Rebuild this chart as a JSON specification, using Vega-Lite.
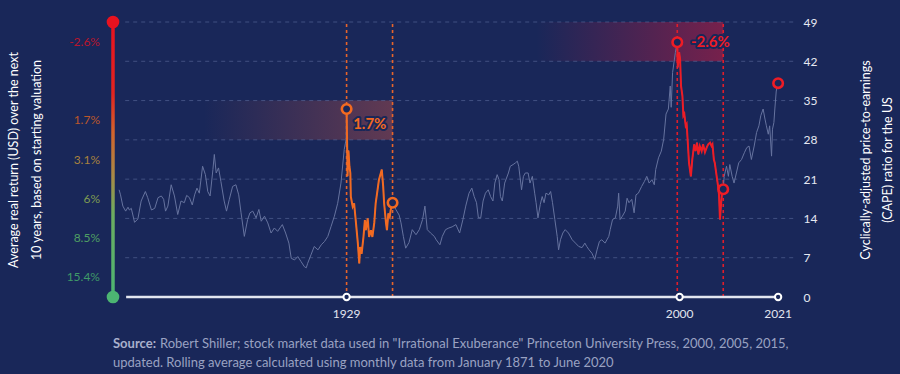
{
"$schema": "https://vega.github.io/schema/vega-lite/v6.json",
"autosize": {"type": "none"},
"width": 667,
"height": 275,
"padding": {"left": 113, "top": 22, "right": 120, "bottom": 77},
"background": "#192759",
"config": {"view": {"stroke": null}, "font": "Lato", "text": {"font": "Lato"}, "axis": {"labelFont": "Lato", "titleFont": "Lato"}, "scale": {"continuousPadding": 0}},
"resolve": {"axis": {"y": "independent"}, "scale": {"color": "independent", "stroke": "independent"}},
"datasets": {
"cape": [
{"year":1880.5,"cape":19.1,"era":"none"},{"year":1880.8,"cape":18.2,"era":"none"},{"year":1881.3,"cape":16.2,"era":"none"},{"year":1881.9,"cape":15.3,"era":"none"},{"year":1882.4,"cape":16.0,"era":"none"},{"year":1882.7,"cape":15.5,"era":"none"},{"year":1883.1,"cape":15.8,"era":"none"},{"year":1883.8,"cape":13.3,"era":"none"},{"year":1884.5,"cape":13.9,"era":"none"},{"year":1885.2,"cape":17.1,"era":"none"},{"year":1886.1,"cape":18.8,"era":"none"},{"year":1886.6,"cape":17.7,"era":"none"},{"year":1887.4,"cape":15.5,"era":"none"},{"year":1888.1,"cape":15.8,"era":"none"},{"year":1888.8,"cape":17.7,"era":"none"},{"year":1889.5,"cape":18.0,"era":"none"},{"year":1890.0,"cape":17.4,"era":"none"},{"year":1890.4,"cape":15.3,"era":"none"},{"year":1890.9,"cape":16.2,"era":"none"},{"year":1891.6,"cape":20.0,"era":"none"},{"year":1892.3,"cape":18.0,"era":"none"},{"year":1893.0,"cape":14.7,"era":"none"},{"year":1893.7,"cape":17.1,"era":"none"},{"year":1894.4,"cape":16.8,"era":"none"},{"year":1894.9,"cape":18.1,"era":"none"},{"year":1895.5,"cape":17.7,"era":"none"},{"year":1896.1,"cape":16.4,"era":"none"},{"year":1896.6,"cape":18.2,"era":"none"},{"year":1897.1,"cape":19.4,"era":"none"},{"year":1897.6,"cape":18.5,"era":"none"},{"year":1898.3,"cape":23.3,"era":"none"},{"year":1898.9,"cape":21.8,"era":"none"},{"year":1899.4,"cape":18.8,"era":"none"},{"year":1899.9,"cape":18.0,"era":"none"},{"year":1900.5,"cape":22.7,"era":"none"},{"year":1900.8,"cape":25.4,"era":"none"},{"year":1901.2,"cape":22.1,"era":"none"},{"year":1901.7,"cape":23.0,"era":"none"},{"year":1902.2,"cape":20.6,"era":"none"},{"year":1902.9,"cape":17.1,"era":"none"},{"year":1903.4,"cape":15.3,"era":"none"},{"year":1904.0,"cape":17.4,"era":"none"},{"year":1904.7,"cape":19.7,"era":"none"},{"year":1905.4,"cape":20.0,"era":"none"},{"year":1906.0,"cape":18.2,"era":"none"},{"year":1906.5,"cape":15.0,"era":"none"},{"year":1907.2,"cape":10.8,"era":"none"},{"year":1907.9,"cape":13.8,"era":"none"},{"year":1908.4,"cape":15.0,"era":"none"},{"year":1909.0,"cape":15.3,"era":"none"},{"year":1909.7,"cape":14.1,"era":"none"},{"year":1910.3,"cape":15.6,"era":"none"},{"year":1910.8,"cape":13.5,"era":"none"},{"year":1911.5,"cape":14.4,"era":"none"},{"year":1912.2,"cape":13.2,"era":"none"},{"year":1912.9,"cape":11.4,"era":"none"},{"year":1913.6,"cape":12.3,"era":"none"},{"year":1914.3,"cape":11.7,"era":"none"},{"year":1915.3,"cape":12.9,"era":"none"},{"year":1916.0,"cape":11.4,"era":"none"},{"year":1916.7,"cape":9.6,"era":"none"},{"year":1917.2,"cape":6.9,"era":"none"},{"year":1917.9,"cape":6.6,"era":"none"},{"year":1918.6,"cape":7.2,"era":"none"},{"year":1919.3,"cape":6.3,"era":"none"},{"year":1920.0,"cape":5.4,"era":"none"},{"year":1920.4,"cape":5.2,"era":"none"},{"year":1920.7,"cape":6.0,"era":"none"},{"year":1921.4,"cape":7.5,"era":"none"},{"year":1922.1,"cape":9.0,"era":"none"},{"year":1922.9,"cape":8.4,"era":"none"},{"year":1923.6,"cape":9.3,"era":"none"},{"year":1924.3,"cape":9.9,"era":"none"},{"year":1925.0,"cape":10.8,"era":"none"},{"year":1925.7,"cape":12.6,"era":"none"},{"year":1926.4,"cape":14.4,"era":"none"},{"year":1927.1,"cape":16.7,"era":"none"},{"year":1927.8,"cape":20.3,"era":"none"},{"year":1928.5,"cape":26.3,"era":"none"},{"year":1928.9,"cape":28.1,"era":"none"},
{"year":1929.0,"cape":33.5,"era":"1929"},{"year":1929.1,"cape":28.1,"era":"1929"},{"year":1929.2,"cape":21.5,"era":"1929"},{"year":1929.4,"cape":26.1,"era":"1929"},{"year":1929.6,"cape":23.3,"era":"1929"},{"year":1929.8,"cape":22.1,"era":"1929"},{"year":1929.9,"cape":17.9,"era":"1929"},{"year":1930.3,"cape":16.1,"era":"1929"},{"year":1930.6,"cape":16.7,"era":"1929"},{"year":1931.0,"cape":13.2,"era":"1929"},{"year":1931.4,"cape":9.6,"era":"1929"},{"year":1931.7,"cape":6.0,"era":"1929"},{"year":1931.9,"cape":8.9,"era":"1929"},{"year":1932.2,"cape":7.7,"era":"1929"},{"year":1932.6,"cape":10.7,"era":"1929"},{"year":1932.9,"cape":13.7,"era":"1929"},{"year":1933.1,"cape":11.9,"era":"1929"},{"year":1933.5,"cape":14.0,"era":"1929"},{"year":1933.8,"cape":10.7,"era":"1929"},{"year":1934.2,"cape":11.9,"era":"1929"},{"year":1934.5,"cape":10.7,"era":"1929"},{"year":1934.9,"cape":13.2,"era":"1929"},{"year":1935.2,"cape":16.7,"era":"1929"},{"year":1935.6,"cape":19.1,"era":"1929"},{"year":1935.9,"cape":20.9,"era":"1929"},{"year":1936.3,"cape":22.1,"era":"1929"},{"year":1936.5,"cape":22.7,"era":"1929"},{"year":1936.8,"cape":19.7,"era":"1929"},{"year":1937.0,"cape":16.7,"era":"1929"},{"year":1937.4,"cape":13.2,"era":"1929"},{"year":1937.6,"cape":11.9,"era":"1929"},{"year":1937.9,"cape":14.9,"era":"1929"},{"year":1938.2,"cape":14.3,"era":"1929"},{"year":1938.4,"cape":15.5,"era":"1929"},{"year":1938.8,"cape":16.8,"era":"1929"},
{"year":1939.5,"cape":15.6,"era":"none"},{"year":1940.2,"cape":14.6,"era":"none"},{"year":1940.6,"cape":13.2,"era":"none"},{"year":1941.1,"cape":10.8,"era":"none"},{"year":1941.6,"cape":8.7,"era":"none"},{"year":1942.3,"cape":9.7,"era":"none"},{"year":1943.0,"cape":12.0,"era":"none"},{"year":1943.8,"cape":11.1,"era":"none"},{"year":1944.5,"cape":12.0,"era":"none"},{"year":1945.2,"cape":13.8,"era":"none"},{"year":1945.7,"cape":16.2,"era":"none"},{"year":1946.2,"cape":12.0,"era":"none"},{"year":1946.9,"cape":11.4,"era":"none"},{"year":1947.7,"cape":10.8,"era":"none"},{"year":1948.1,"cape":10.2,"era":"none"},{"year":1948.9,"cape":9.3,"era":"none"},{"year":1949.4,"cape":10.8,"era":"none"},{"year":1950.1,"cape":12.0,"era":"none"},{"year":1950.8,"cape":12.3,"era":"none"},{"year":1951.5,"cape":12.5,"era":"none"},{"year":1952.3,"cape":12.9,"era":"none"},{"year":1953.1,"cape":11.4,"era":"none"},{"year":1953.8,"cape":13.8,"era":"none"},{"year":1954.4,"cape":16.2,"era":"none"},{"year":1955.1,"cape":18.5,"era":"none"},{"year":1955.7,"cape":19.4,"era":"none"},{"year":1956.2,"cape":17.9,"era":"none"},{"year":1956.7,"cape":16.8,"era":"none"},{"year":1957.1,"cape":14.1,"era":"none"},{"year":1957.6,"cape":14.1,"era":"none"},{"year":1958.1,"cape":17.1,"era":"none"},{"year":1958.6,"cape":18.5,"era":"none"},{"year":1959.2,"cape":19.1,"era":"none"},{"year":1959.7,"cape":17.9,"era":"none"},{"year":1960.2,"cape":17.1,"era":"none"},{"year":1960.6,"cape":20.3,"era":"none"},{"year":1961.1,"cape":21.8,"era":"none"},{"year":1961.5,"cape":20.9,"era":"none"},{"year":1961.8,"cape":17.9,"era":"none"},{"year":1962.2,"cape":17.1,"era":"none"},{"year":1962.7,"cape":20.3,"era":"none"},{"year":1963.5,"cape":22.1,"era":"none"},{"year":1963.9,"cape":23.3,"era":"none"},{"year":1964.5,"cape":23.6,"era":"none"},{"year":1965.0,"cape":23.9,"era":"none"},{"year":1965.4,"cape":24.2,"era":"none"},{"year":1965.7,"cape":23.3,"era":"none"},{"year":1966.3,"cape":19.1,"era":"none"},{"year":1966.7,"cape":21.5,"era":"none"},{"year":1967.1,"cape":22.1,"era":"none"},{"year":1967.7,"cape":22.1,"era":"none"},{"year":1968.1,"cape":20.3,"era":"none"},{"year":1968.6,"cape":21.5,"era":"none"},{"year":1969.1,"cape":18.5,"era":"none"},{"year":1969.4,"cape":16.8,"era":"none"},{"year":1969.8,"cape":14.1,"era":"none"},{"year":1970.3,"cape":16.5,"era":"none"},{"year":1970.7,"cape":17.9,"era":"none"},{"year":1971.1,"cape":16.8,"era":"none"},{"year":1971.5,"cape":18.5,"era":"none"},{"year":1972.1,"cape":18.2,"era":"none"},{"year":1972.5,"cape":18.8,"era":"none"},{"year":1972.9,"cape":16.8,"era":"none"},{"year":1973.4,"cape":13.8,"era":"none"},{"year":1973.9,"cape":10.8,"era":"none"},{"year":1974.2,"cape":8.4,"era":"none"},{"year":1974.6,"cape":10.2,"era":"none"},{"year":1975.1,"cape":11.4,"era":"none"},{"year":1975.6,"cape":12.0,"era":"none"},{"year":1976.3,"cape":11.4,"era":"none"},{"year":1977.1,"cape":10.2,"era":"none"},{"year":1977.8,"cape":9.6,"era":"none"},{"year":1978.5,"cape":9.0,"era":"none"},{"year":1979.2,"cape":8.8,"era":"none"},{"year":1979.8,"cape":9.6,"era":"none"},{"year":1980.2,"cape":9.0,"era":"none"},{"year":1980.7,"cape":8.4,"era":"none"},{"year":1981.3,"cape":7.8,"era":"none"},{"year":1981.9,"cape":6.7,"era":"none"},{"year":1982.4,"cape":8.4,"era":"none"},{"year":1982.9,"cape":9.9,"era":"none"},{"year":1983.4,"cape":10.2,"era":"none"},{"year":1984.1,"cape":9.6,"era":"none"},{"year":1984.9,"cape":10.8,"era":"none"},{"year":1985.2,"cape":12.0,"era":"none"},{"year":1985.7,"cape":13.8,"era":"none"},{"year":1986.3,"cape":14.1,"era":"none"},{"year":1986.8,"cape":16.2,"era":"none"},{"year":1987.0,"cape":18.5,"era":"none"},{"year":1987.3,"cape":13.8,"era":"none"},{"year":1987.8,"cape":14.4,"era":"none"},{"year":1988.4,"cape":15.3,"era":"none"},{"year":1988.8,"cape":17.6,"era":"none"},{"year":1989.2,"cape":16.8,"era":"none"},{"year":1989.8,"cape":17.4,"era":"none"},{"year":1990.3,"cape":15.0,"era":"none"},{"year":1990.7,"cape":18.2,"era":"none"},{"year":1991.2,"cape":18.5,"era":"none"},{"year":1991.9,"cape":19.7,"era":"none"},{"year":1992.5,"cape":20.6,"era":"none"},{"year":1993.0,"cape":21.5,"era":"none"},{"year":1993.5,"cape":20.3,"era":"none"},{"year":1994.1,"cape":20.9,"era":"none"},{"year":1994.6,"cape":20.0,"era":"none"},{"year":1994.9,"cape":22.7,"era":"none"},{"year":1995.5,"cape":24.8,"era":"none"},{"year":1996.1,"cape":26.0,"era":"none"},{"year":1996.6,"cape":28.1,"era":"none"},{"year":1997.1,"cape":32.6,"era":"none"},{"year":1997.6,"cape":33.5,"era":"none"},{"year":1998.0,"cape":37.6,"era":"none"},{"year":1998.2,"cape":33.8,"era":"none"},{"year":1998.5,"cape":40.0,"era":"none"},{"year":1998.9,"cape":42.4,"era":"none"},{"year":1999.1,"cape":43.6,"era":"none"},
{"year":1999.5,"cape":45.4,"era":"2000"},{"year":1999.6,"cape":40.9,"era":"2000"},{"year":1999.9,"cape":43.6,"era":"2000"},{"year":2000.1,"cape":42.4,"era":"2000"},{"year":2000.3,"cape":37.6,"era":"2000"},{"year":2000.6,"cape":35.8,"era":"2000"},{"year":2000.8,"cape":32.3,"era":"2000"},{"year":2001.0,"cape":32.6,"era":"2000"},{"year":2001.3,"cape":30.5,"era":"2000"},{"year":2001.5,"cape":30.8,"era":"2000"},{"year":2001.7,"cape":28.1,"era":"2000"},{"year":2002.0,"cape":23.9,"era":"2000"},{"year":2002.4,"cape":21.5,"era":"2000"},{"year":2002.7,"cape":24.5,"era":"2000"},{"year":2003.1,"cape":27.2,"era":"2000"},{"year":2003.4,"cape":26.0,"era":"2000"},{"year":2003.7,"cape":27.5,"era":"2000"},{"year":2004.0,"cape":25.4,"era":"2000"},{"year":2004.3,"cape":26.9,"era":"2000"},{"year":2004.7,"cape":26.0,"era":"2000"},{"year":2005.0,"cape":27.2,"era":"2000"},{"year":2005.4,"cape":25.8,"era":"2000"},{"year":2005.8,"cape":26.7,"era":"2000"},{"year":2006.1,"cape":27.2,"era":"2000"},{"year":2006.5,"cape":27.5,"era":"2000"},{"year":2006.8,"cape":26.9,"era":"2000"},{"year":2007.0,"cape":27.2,"era":"2000"},{"year":2007.3,"cape":24.5,"era":"2000"},{"year":2007.5,"cape":23.9,"era":"2000"},{"year":2007.9,"cape":21.5,"era":"2000"},{"year":2008.2,"cape":19.7,"era":"2000"},{"year":2008.4,"cape":18.2,"era":"2000"},{"year":2008.6,"cape":13.8,"era":"2000"},{"year":2008.8,"cape":16.2,"era":"2000"},{"year":2009.1,"cape":19.1,"era":"2000"},{"year":2009.3,"cape":19.2,"era":"2000"},
{"year":2009.5,"cape":21.5,"era":"none"},{"year":2010.0,"cape":23.3,"era":"none"},{"year":2010.4,"cape":21.5,"era":"none"},{"year":2010.7,"cape":23.6,"era":"none"},{"year":2011.2,"cape":21.5,"era":"none"},{"year":2011.6,"cape":20.3,"era":"none"},{"year":2012.1,"cape":22.1,"era":"none"},{"year":2012.6,"cape":23.9,"era":"none"},{"year":2013.2,"cape":24.5,"era":"none"},{"year":2013.8,"cape":25.7,"era":"none"},{"year":2014.3,"cape":26.6,"era":"none"},{"year":2014.8,"cape":26.9,"era":"none"},{"year":2015.3,"cape":24.5,"era":"none"},{"year":2015.9,"cape":26.9,"era":"none"},{"year":2016.4,"cape":29.3,"era":"none"},{"year":2016.9,"cape":30.5,"era":"none"},{"year":2017.3,"cape":32.3,"era":"none"},{"year":2017.8,"cape":33.5,"era":"none"},{"year":2018.2,"cape":31.7,"era":"none"},{"year":2018.5,"cape":30.5,"era":"none"},{"year":2018.9,"cape":29.0,"era":"none"},{"year":2019.2,"cape":30.5,"era":"none"},{"year":2019.6,"cape":25.1,"era":"none"},{"year":2019.8,"cape":29.9,"era":"none"},{"year":2020.1,"cape":31.1,"era":"none"},{"year":2020.3,"cape":33.5,"era":"none"},{"year":2020.6,"cape":36.7,"era":"none"},{"year":2021.0,"cape":38.1,"era":"none"}
],
"markers": [
{"year":1929.0,"cape":33.5,"era":"1929"},{"year":1938.8,"cape":16.8,"era":"1929"},{"year":1999.5,"cape":45.4,"era":"2000"},{"year":2009.3,"cape":19.2,"era":"2000"},{"year":2021.0,"cape":38.1,"era":"2000"}
],
"bands": [
{"era":"1929","start":1898.5,"end":1938.8,"low":28,"high":35},
{"era":"2000","start":1969.5,"end":2009.3,"low":42,"high":49}
],
"grid": [{"v":7},{"v":14},{"v":21},{"v":28},{"v":35},{"v":42},{"v":49}],
"returns": [
{"label":"-2.6%","cape":45.5},{"label":"1.7%","cape":31.5},{"label":"3.1%","cape":24.5},{"label":"6%","cape":17.5},{"label":"8.5%","cape":10.5},{"label":"15.4%","cape":3.5}
],
"annot": [
{"txt":"1.7%","year":1930.4,"cape":30.9,"era":"1929"},
{"txt":"-2.6%","year":2002.4,"cape":45.4,"era":"2000"}
],
"ticks": [{"year":1929,"label":"1929"},{"year":2000,"label":"2000"},{"year":2021,"label":"2021"}],
"ends": [{"cape":49,"end":"top"},{"cape":0,"end":"bottom"}]
},
"layer": [
{"data":{"name":"bands"},"transform":[{"filter":"datum.era=='1929'"}],
 "mark":{"type":"rect","fill":{"gradient":"linear","x1":0,"y1":0,"x2":1,"y2":0,"stops":[{"offset":0,"color":"rgba(225,90,70,0)"},{"offset":1,"color":"rgba(225,90,70,0.36)"}]}},
 "encoding":{"x":{"field":"start","type":"quantitative","scale":{"domain":[1879.2,2021.4],"nice":false,"zero":false,"padding":0},"axis":null},"x2":{"field":"end"},
 "y":{"field":"low","type":"quantitative","scale":{"domain":[0,49],"nice":false,"padding":0},"axis":null},"y2":{"field":"high"}}},
{"data":{"name":"bands"},"transform":[{"filter":"datum.era=='2000'"}],
 "mark":{"type":"rect","fill":{"gradient":"linear","x1":0,"y1":0,"x2":1,"y2":0,"stops":[{"offset":0,"color":"rgba(232,25,60,0)"},{"offset":1,"color":"rgba(232,25,60,0.45)"}]}},
 "encoding":{"x":{"field":"start","type":"quantitative","scale":{"domain":[1879.2,2021.4],"nice":false,"zero":false,"padding":0},"axis":null},"x2":{"field":"end"},
 "y":{"field":"low","type":"quantitative","scale":{"domain":[0,49],"nice":false,"padding":0},"axis":null},"y2":{"field":"high"}}},
{"data":{"name":"grid"},
 "mark":{"type":"rule","stroke":"#5c6a9c","strokeOpacity":0.6,"strokeWidth":1,"strokeDash":[4,4]},
 "encoding":{"x":{"datum":1881.8,"type":"quantitative","scale":{"domain":[1879.2,2021.4],"nice":false,"zero":false,"padding":0},"axis":null},"x2":{"datum":2024.5},
 "y":{"field":"v","type":"quantitative","scale":{"domain":[0,49],"nice":false,"padding":0},"axis":null}}},
{"data":{"name":"markers"},"transform":[{"filter":"datum.year < 2020"}],
 "mark":{"type":"rule","strokeWidth":1.6,"strokeDash":[3,3]},
 "encoding":{"x":{"field":"year","type":"quantitative","scale":{"domain":[1879.2,2021.4],"nice":false,"zero":false,"padding":0},"axis":null},
 "y":{"datum":0,"type":"quantitative","scale":{"domain":[0,49],"nice":false,"padding":0},"axis":null},"y2":{"datum":49},
 "color":{"field":"era","type":"nominal","scale":{"domain":["1929","2000"],"range":["#e8652a","#e21d2a"]},"legend":null}}},
{"data":{"name":"cape"},
 "mark":{"type":"line","stroke":"#66739f","strokeWidth":1},
 "encoding":{"x":{"field":"year","type":"quantitative","scale":{"domain":[1879.2,2021.4],"nice":false,"zero":false,"padding":0},"axis":null},
 "y":{"field":"cape","type":"quantitative","scale":{"domain":[0,49],"nice":false,"padding":0},
  "axis":{"orient":"right","values":[0,7,14,21,28,35,42,49],"domain":false,"ticks":false,"grid":false,"labelPadding":23,"labelAlign":"left","labelColor":"#e6e9f2","labelFontSize":12,"labelFont":"Lato",
   "title":["Cyclically-adjusted price-to-earnings","(CAPE) ratio for the US"],"titleAngle":270,"titleBaseline":"top","titlePadding":21,"titleColor":"#ffffff","titleFontSize":12.5,"titleFontWeight":"normal","titleFont":"Lato","titleLineHeight":22}}}},
{"data":{"name":"cape"},"transform":[{"filter":"datum.era != 'none'"}],
 "mark":{"type":"line","strokeWidth":2},
 "encoding":{"x":{"field":"year","type":"quantitative","scale":{"domain":[1879.2,2021.4],"nice":false,"zero":false,"padding":0},"axis":null},
 "y":{"field":"cape","type":"quantitative","scale":{"domain":[0,49],"nice":false,"padding":0},"axis":null},
 "color":{"field":"era","type":"nominal","scale":{"domain":["1929","2000"],"range":["#f26a21","#ee1c25"]},"legend":null}}},
{"data":{"name":"markers"},
 "mark":{"type":"circle","size":90,"fill":"#192759","fillOpacity":1,"strokeWidth":2.6,"opacity":1},
 "encoding":{"x":{"field":"year","type":"quantitative","scale":{"domain":[1879.2,2021.4],"nice":false,"zero":false,"padding":0},"axis":null},
 "y":{"field":"cape","type":"quantitative","scale":{"domain":[0,49],"nice":false,"padding":0},"axis":null},
 "stroke":{"field":"era","type":"nominal","scale":{"domain":["1929","2000"],"range":["#f26a21","#ee1c25"]},"legend":null}}},
{"data":{"values":[{"from":1882.0,"to":2021.0}]},
 "mark":{"type":"rule","stroke":"#e3e6f0","strokeWidth":2.5},
 "encoding":{"x":{"field":"from","type":"quantitative","scale":{"domain":[1879.2,2021.4],"nice":false,"zero":false,"padding":0},"axis":null},"x2":{"field":"to"},
 "y":{"datum":0,"type":"quantitative","scale":{"domain":[0,49],"nice":false,"padding":0},"axis":null}}},
{"data":{"name":"ticks"},
 "mark":{"type":"circle","size":40,"fill":"#192759","fillOpacity":1,"stroke":"#ffffff","strokeWidth":2,"opacity":1},
 "encoding":{"x":{"field":"year","type":"quantitative","scale":{"domain":[1879.2,2021.4],"nice":false,"zero":false,"padding":0},"axis":null},
 "y":{"datum":0,"type":"quantitative","scale":{"domain":[0,49],"nice":false,"padding":0},"axis":null}}},
{"data":{"name":"ticks"},
 "mark":{"type":"text","align":"center","baseline":"middle","dy":17,"fontSize":12,"font":"Lato","color":"#e1e4ef"},
 "encoding":{"x":{"field":"year","type":"quantitative","scale":{"domain":[1879.2,2021.4],"nice":false,"zero":false,"padding":0},"axis":null},
 "y":{"datum":0,"type":"quantitative","scale":{"domain":[0,49],"nice":false,"padding":0},"axis":null},
 "text":{"field":"label"}}},
{"data":{"values":[{"low":0,"high":49}]},
 "mark":{"type":"bar","size":3.5,"fill":{"gradient":"linear","x1":0,"y1":0,"x2":0,"y2":1,"stops":[{"offset":0,"color":"#e8121f"},{"offset":0.26,"color":"#e2241f"},{"offset":0.4,"color":"#d2632c"},{"offset":0.56,"color":"#a98a46"},{"offset":0.7,"color":"#6cad60"},{"offset":1,"color":"#4cb572"}]}},
 "encoding":{"x":{"datum":1879.2,"type":"quantitative","scale":{"domain":[1879.2,2021.4],"nice":false,"zero":false,"padding":0},"axis":null},
 "y":{"field":"low","type":"quantitative","scale":{"domain":[0,49],"nice":false,"padding":0},"axis":null},"y2":{"field":"high"}}},
{"data":{"name":"ends"},
 "mark":{"type":"circle","size":160,"opacity":1},
 "encoding":{"x":{"datum":1879.2,"type":"quantitative","scale":{"domain":[1879.2,2021.4],"nice":false,"zero":false,"padding":0},"axis":null},
 "y":{"field":"cape","type":"quantitative","scale":{"domain":[0,49],"nice":false,"padding":0},"axis":null},
 "color":{"field":"end","type":"nominal","scale":{"domain":["top","bottom"],"range":["#e8121f","#4cb572"]},"legend":null}}},
{"data":{"name":"returns"},
 "mark":{"type":"text","align":"right","baseline":"middle","dx":-13,"fontSize":12,"font":"Lato"},
 "encoding":{"x":{"datum":1879.2,"type":"quantitative","scale":{"domain":[1879.2,2021.4],"nice":false,"zero":false,"padding":0},"axis":null},
 "y":{"field":"cape","type":"quantitative","scale":{"domain":[0,49],"nice":false,"padding":0},
  "axis":{"orient":"left","labels":false,"ticks":false,"domain":false,"grid":false,
   "title":["Average real return (USD) over the next","10 years, based on starting valuation"],"titlePadding":70,"titleColor":"#ffffff","titleFontSize":12.5,"titleFontWeight":"normal","titleFont":"Lato","titleLineHeight":23}},
 "text":{"field":"label"},
 "color":{"field":"label","type":"nominal","scale":{"domain":["-2.6%","1.7%","3.1%","6%","8.5%","15.4%"],"range":["#b8152c","#bb572b","#a8813e","#7f9b52","#4f9f63","#3f9a68"]},"legend":null}}},
{"data":{"name":"annot"},
 "mark":{"type":"text","align":"left","baseline":"middle","fontSize":15,"fontWeight":"bold","font":"Lato","fill":"#192759","stroke":"#192759","strokeWidth":4,"strokeJoin":"round"},
 "encoding":{"x":{"field":"year","type":"quantitative","scale":{"domain":[1879.2,2021.4],"nice":false,"zero":false,"padding":0},"axis":null},
 "y":{"field":"cape","type":"quantitative","scale":{"domain":[0,49],"nice":false,"padding":0},"axis":null},
 "text":{"field":"txt"}}},
{"data":{"name":"annot"},
 "mark":{"type":"text","align":"left","baseline":"middle","fontSize":15,"fontWeight":"bold","font":"Lato"},
 "encoding":{"x":{"field":"year","type":"quantitative","scale":{"domain":[1879.2,2021.4],"nice":false,"zero":false,"padding":0},"axis":null},
 "y":{"field":"cape","type":"quantitative","scale":{"domain":[0,49],"nice":false,"padding":0},"axis":null},
 "text":{"field":"txt"},
 "color":{"field":"era","type":"nominal","scale":{"domain":["1929","2000"],"range":["#f26a21","#ee1c25"]},"legend":null}}},
{"data":{"values":[{"t":"Source:"}]},
 "mark":{"type":"text","align":"left","baseline":"middle","fontSize":13,"fontWeight":"bold","font":"Lato","color":"#a9b0cc"},
 "encoding":{"x":{"datum":1879.2,"type":"quantitative","scale":{"domain":[1879.2,2021.4],"nice":false,"zero":false,"padding":0},"axis":null},
 "y":{"datum":-8.4,"type":"quantitative","scale":{"domain":[0,49],"nice":false,"padding":0},"axis":null},"text":{"field":"t"}}},
{"data":{"values":[{"t":"Robert Shiller; stock market data used in \"Irrational Exuberance\" Princeton University Press, 2000, 2005, 2015,"}]},
 "mark":{"type":"text","align":"left","baseline":"middle","fontSize":13,"font":"Lato","color":"#9aa2c2","dx":47},
 "encoding":{"x":{"datum":1879.2,"type":"quantitative","scale":{"domain":[1879.2,2021.4],"nice":false,"zero":false,"padding":0},"axis":null},
 "y":{"datum":-8.4,"type":"quantitative","scale":{"domain":[0,49],"nice":false,"padding":0},"axis":null},"text":{"field":"t"}}},
{"data":{"values":[{"t":"updated. Rolling average calculated using monthly data from January 1871 to June 2020"}]},
 "mark":{"type":"text","align":"left","baseline":"middle","fontSize":13,"font":"Lato","color":"#9aa2c2"},
 "encoding":{"x":{"datum":1879.2,"type":"quantitative","scale":{"domain":[1879.2,2021.4],"nice":false,"zero":false,"padding":0},"axis":null},
 "y":{"datum":-11.8,"type":"quantitative","scale":{"domain":[0,49],"nice":false,"padding":0},"axis":null},"text":{"field":"t"}}}
]
}
